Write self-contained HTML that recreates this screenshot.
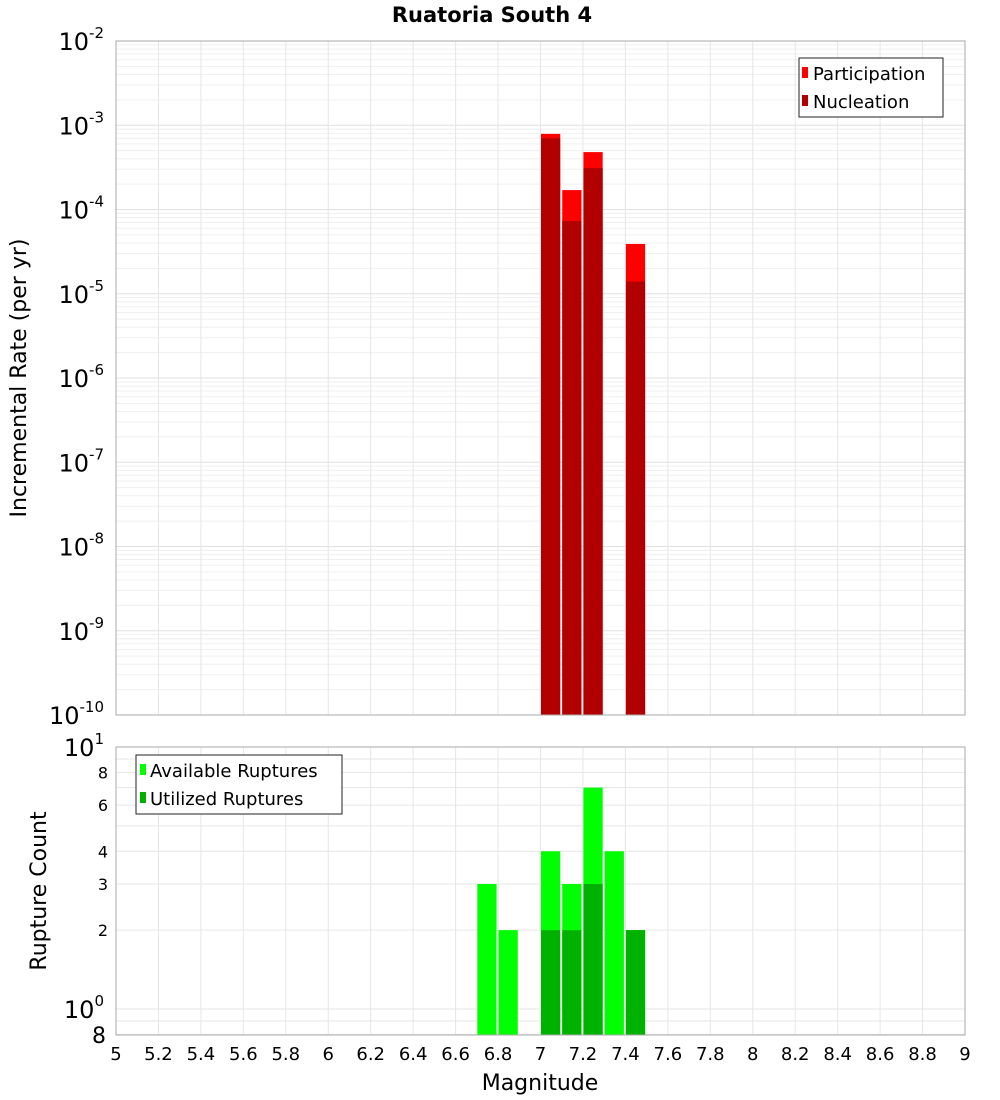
<!DOCTYPE html>
<html><head><meta charset="utf-8"><style>
body{margin:0;background:#fff;font-family:"DejaVu Sans","Liberation Sans",sans-serif;}
svg{display:block}
</style></head><body>
<svg id="chart" width="1000" height="1100" xmlns="http://www.w3.org/2000/svg">
<text x="492" y="22" text-anchor="middle" font-size="21" font-weight="bold">Ruatoria South 4</text>
<g id="topPlot"></g>
<g id="botPlot"></g>
<text transform="translate(26,378) rotate(-90)" text-anchor="middle" font-size="22">Incremental Rate (per yr)</text>
<text transform="translate(46,891) rotate(-90)" text-anchor="middle" font-size="22">Rupture Count</text>
<text x="540" y="1090" text-anchor="middle" font-size="22">Magnitude</text>
</svg>
<script>
const mags = [6.75, 6.85, 7.05, 7.15, 7.25, 7.35, 7.45];
const participation = [0, 0, 7.9e-4, 1.7e-4, 4.8e-4, 0, 3.9e-5];
const nucleation = [0, 0, 7.0e-4, 7.3e-5, 3.1e-4, 0, 1.4e-5];
const available = [3, 2, 4, 3, 7, 4, 2];
const utilized = [0, 0, 2, 2, 3, 0, 2];
const xTicks = [5,5.2,5.4,5.6,5.8,6,6.2,6.4,6.6,6.8,7,7.2,7.4,7.6,7.8,8,8.2,8.4,8.6,8.8,9];
const topExps = [-10,-9,-8,-7,-6,-5,-4,-3,-2];
const botTicks = [2,3,4,6,8];

const NS="http://www.w3.org/2000/svg";
const L=116,R=965;
const xs=m=>L+(m-5)*(R-L)/4;
const T0=41,T1=715;
const yTop=v=>T0+(-2-Math.log10(v))*(T1-T0)/8;
const B0=747,B1=1035;
const yBot=v=>B0+(1-Math.log10(v))*262;
function mk(p,tag,a,txt){const e=document.createElementNS(NS,tag);for(const k in a)e.setAttribute(k,a[k]);if(txt!==undefined)e.textContent=txt;p.appendChild(e);return e;}
const topG=document.getElementById('topPlot'),botG=document.getElementById('botPlot');
const bw=xs(5.1)-L-2;

for(let e=-10;e<-2;e++)for(let k=1;k<10;k++){const yy=yTop(k*Math.pow(10,e));mk(topG,'line',{x1:L,x2:R,y1:yy,y2:yy,stroke:k==1?'#e0e0e0':'#efefef','stroke-width':1});}
for(let i=0;i<=20;i++){const m=5+i*0.2;mk(topG,'line',{x1:xs(m),x2:xs(m),y1:T0,y2:T1,stroke:'#e6e6e6'});}
mags.forEach((m,i)=>{
 if(participation[i]>0){const r=mk(topG,'rect',{x:xs(m-0.05)+0.5,width:bw,y:yTop(participation[i]),height:T1-yTop(participation[i]),fill:'#ff0000'});
 
 }
 if(nucleation[i]>0){const r=mk(topG,'rect',{x:xs(m-0.05)+0.5,width:bw,y:yTop(nucleation[i]),height:T1-yTop(nucleation[i]),fill:'#b20000'});
 
 }
});
mk(topG,'rect',{x:L,y:T0,width:R-L,height:T1-T0,fill:'none',stroke:'#aaa'});
topExps.forEach(e=>{const yy=yTop(Math.pow(10,e));const t=mk(topG,'text',{x:104,y:yy+9,'text-anchor':'end','font-size':24});
 
 
 t.innerHTML='10<tspan dy="-12" font-size="15">'+e+'</tspan>';});
const lg=mk(topG,'g',{});


mk(lg,'rect',{x:799,y:58,width:144,height:59,fill:'#fff',stroke:'#222'});
mk(lg,'rect',{x:802,y:67,width:6,height:11,fill:'#ff0000'});
mk(lg,'text',{x:813,y:80,'font-size':18},'Participation');
mk(lg,'rect',{x:802,y:95,width:6,height:11,fill:'#b20000'});
mk(lg,'text',{x:813,y:108,'font-size':18},'Nucleation');

[1,2,3,4,5,6,7,8,9,10,0.8,0.9].forEach(v=>{const yy=yBot(v);if(yy<=B1)mk(botG,'line',{x1:L,x2:R,y1:yy,y2:yy,stroke:'#e6e6e6'});});
for(let i=0;i<=20;i++){const m=5+i*0.2;mk(botG,'line',{x1:xs(m),x2:xs(m),y1:B0,y2:B1,stroke:'#e6e6e6'});}
mags.forEach((m,i)=>{
 if(available[i]>0){const r=mk(botG,'rect',{x:xs(m-0.05)+0.5,width:bw,y:yBot(available[i]),height:B1-yBot(available[i]),fill:'#00ff00'});
 
 }
 if(utilized[i]>0){const r=mk(botG,'rect',{x:xs(m-0.05)+0.5,width:bw,y:yBot(utilized[i]),height:B1-yBot(utilized[i]),fill:'#00b200'});
 
 }
});
mk(botG,'rect',{x:L,y:B0,width:R-L,height:B1-B0,fill:'none',stroke:'#aaa'});
botTicks.forEach(v=>{const t=mk(botG,'text',{x:108,y:yBot(v)+6,'text-anchor':'end','font-size':16},String(v));
 
 });
[[1,yBot(10)],[0,yBot(1)]].forEach(([e,yy])=>{const t=mk(botG,'text',{x:104,y:yy+9,'text-anchor':'end','font-size':24});
 
 
 t.innerHTML='10<tspan dy="-12" font-size="15">'+e+'</tspan>';});
const t8=mk(botG,'text',{x:106,y:1043,'text-anchor':'end','font-size':22},'8');


xTicks.forEach(m=>{const t=mk(botG,'text',{x:xs(m),y:1060,'text-anchor':'middle','font-size':18},String(m));
 
 });
const lb=mk(botG,'g',{});


mk(lb,'rect',{x:136,y:755,width:206,height:59,fill:'#fff',stroke:'#222'});
mk(lb,'rect',{x:140,y:764,width:6,height:11,fill:'#00ff00'});
mk(lb,'text',{x:150,y:777,'font-size':18},'Available Ruptures');
mk(lb,'rect',{x:140,y:792,width:6,height:11,fill:'#00b200'});
mk(lb,'text',{x:150,y:805,'font-size':18},'Utilized Ruptures');
</script>
</body></html>
